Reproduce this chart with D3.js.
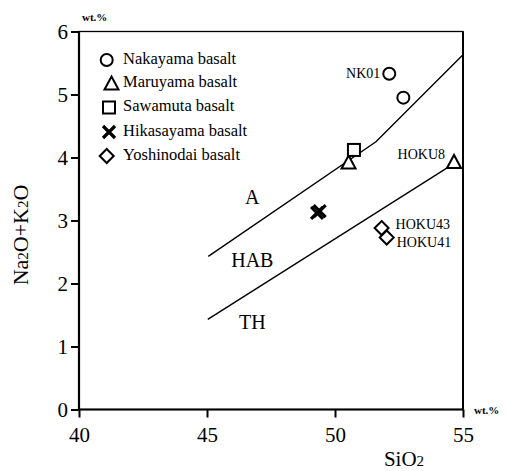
<!DOCTYPE html>
<html><head><meta charset="utf-8">
<script src="https://cdn.jsdelivr.net/npm/d3@7"></script>
<style>body{margin:0;background:#fff}svg{display:block}text{font-family:"Liberation Serif","Times New Roman",serif;fill:#000}</style>
</head><body><svg id="c" width="507" height="471"></svg>
<script>
const xTicks = [40, 45, 50, 55];
const yTicks = [0, 1, 2, 3, 4, 5, 6];
const seriesNames = ["Nakayama basalt", "Maruyama basalt", "Sawamuta basalt", "Hikasayama basalt", "Yoshinodai basalt"];
const seriesShapes = ["circle", "triangle", "square", "cross", "diamond"];
const nakayama = [{x: 52.12, y: 5.33, label: "NK01"}, {x: 52.67, y: 4.95, label: ""}];
const maruyama = [{x: 50.53, y: 3.92, label: ""}, {x: 54.65, y: 3.93, label: "HOKU8"}];
const sawamuta = [{x: 50.74, y: 4.12, label: ""}];
const hikasayama = [{x: 49.3, y: 3.12, label: ""}, {x: 49.4, y: 3.15, label: ""}];
const yoshinodai = [{x: 51.82, y: 2.88, label: "HOKU43"}, {x: 52.02, y: 2.73, label: "HOKU41"}];
const upperBoundary = [[45.05, 2.43], [51.6, 4.25], [55, 5.63]];
const lowerBoundary = [[45.03, 1.43], [54.55, 3.88]];
const regionLabels = [{x: 46.77, y: 3.33, t: "A"}, {x: 46.77, y: 2.33, t: "HAB"}, {x: 46.77, y: 1.35, t: "TH"}];

const svg = d3.select("#c");
const x = d3.scaleLinear().domain([40, 55]).range([79, 463]);
const y = d3.scaleLinear().domain([0, 6]).range([409.5, 31.5]);

// frame
svg.append("rect").attr("x", 79).attr("y", 31.5).attr("width", 384).attr("height", 378)
  .attr("fill", "none").attr("stroke", "#000").attr("stroke-width", 1.3);
svg.append("line").attr("x1",79).attr("x2",79).attr("y1",31.5).attr("y2",409.5).attr("stroke","#000").attr("stroke-width",2.2);
svg.append("line").attr("x1",79).attr("x2",463).attr("y1",409.5).attr("y2",409.5).attr("stroke","#000").attr("stroke-width",2.2);
svg.append("line").attr("x1",463).attr("x2",463).attr("y1",31.5).attr("y2",409.5).attr("stroke","#000").attr("stroke-width",2);

const xAxis = svg.append("g").attr("transform", "translate(0,409.5)")
  .call(d3.axisBottom(x).tickValues(xTicks).tickSize(8).tickPadding(10).tickFormat(d3.format("d")));
xAxis.select(".domain").remove();
xAxis.selectAll("line").attr("stroke-width", 2);
xAxis.selectAll("text").attr("font-size", 21).style("font-family", "Liberation Serif");

const yAxis = svg.append("g").attr("transform", "translate(79,0)")
  .call(d3.axisLeft(y).tickValues(yTicks).tickSize(8).tickPadding(3).tickFormat(d3.format("d")));
yAxis.select(".domain").remove();
yAxis.selectAll("line").attr("stroke-width", 2);
yAxis.selectAll("text").attr("font-size", 21).style("font-family", "Liberation Serif");

// units
svg.append("text").attr("x", 82).attr("y", 21).attr("font-size", 11).attr("font-weight", "bold").text("wt.%");
svg.append("text").attr("x", 474).attr("y", 414).attr("font-size", 11).attr("font-weight", "bold").text("wt.%");

// axis titles
svg.append("text").attr("x", 404).attr("y", 466).attr("text-anchor", "middle").attr("font-size", 21)
  .html('SiO<tspan font-size="15">2</tspan>');
svg.append("text").attr("transform", "translate(28,235) rotate(-90)").attr("text-anchor", "middle").attr("font-size", 22)
  .html('Na<tspan font-size="15">2</tspan>O+K<tspan font-size="15">2</tspan>O');

// boundaries
const line = d3.line().x(d => x(d[0])).y(d => y(d[1]));
[upperBoundary, lowerBoundary].forEach(b => svg.append("path").attr("d", line(b)).attr("fill", "none").attr("stroke", "#000").attr("stroke-width", 1.4));

regionLabels.forEach(r => svg.append("text").attr("x", x(r.x)).attr("y", y(r.y)).attr("text-anchor", "middle")
  .attr("dominant-baseline", "middle").attr("font-size", 20).text(r.t));

// markers
function marker(g, shape, cx, cy) {
  const s = g.append("g").attr("transform", `translate(${cx},${cy})`);
  const st = {fill: "#fff", stroke: "#000", "stroke-width": 2};
  let el;
  if (shape === "circle") el = s.append("circle").attr("r", 6);
  else if (shape === "triangle") el = s.append("path").attr("d", "M0,-7 L7,6 L-7,6 Z");
  else if (shape === "square") el = s.append("rect").attr("x", -6).attr("y", -6).attr("width", 12).attr("height", 12);
  else if (shape === "diamond") el = s.append("path").attr("d", "M0,-7 L7,0 L0,7 L-7,0 Z");
  else if (shape === "cross") { el = s.append("path").attr("d", "M-6,-6 L6,6 M-6,6 L6,-6"); st["stroke-width"] = 3.2; st.fill = "none"; }
  Object.entries(st).forEach(([k, v]) => el.attr(k, v));
}
const groups = [nakayama, maruyama, sawamuta, hikasayama, yoshinodai];
const gm = svg.append("g");
groups.forEach((pts, i) => pts.forEach(p => marker(gm, seriesShapes[i], x(p.x), y(p.y))));

// point labels
const labelPos = {"NK01": [-9, 1, "end"], "HOKU8": [-9, -6, "end"], "HOKU43": [14, -2, "start"], "HOKU41": [10, 6, "start"]};
groups.flat().filter(p => p.label).forEach(p => {
  const o = labelPos[p.label];
  svg.append("text").attr("x", x(p.x) + o[0]).attr("y", y(p.y) + o[1]).attr("text-anchor", o[2])
    .attr("dominant-baseline", "middle").attr("font-size", 14).text(p.label);
});

// legend
const legY = [60, 83.5, 107.5, 132, 156];
const legX = [106.7, 111.5, 109, 109, 106.7];
seriesNames.forEach((n, i) => {
  marker(svg, seriesShapes[i], legX[i], legY[i]);
  svg.append("text").attr("x", 123).attr("y", legY[i]).attr("dominant-baseline", "middle").attr("font-size", 16.5).text(n);
});
</script></body></html>
